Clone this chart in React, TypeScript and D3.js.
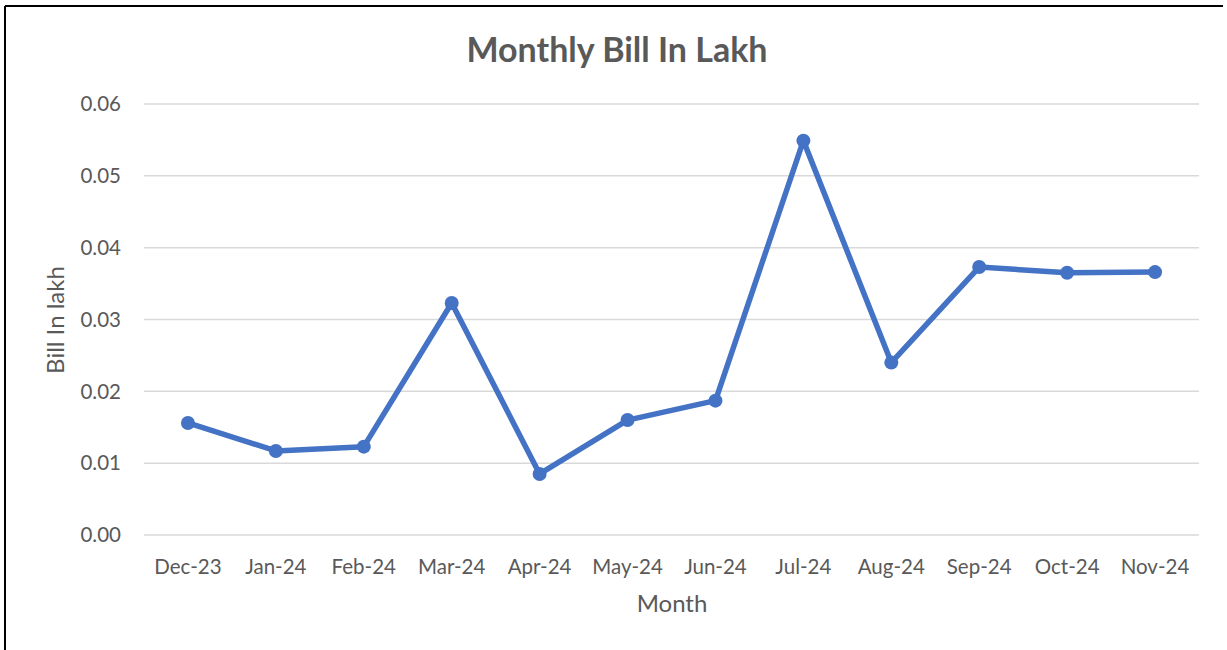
import React from "react";
import * as d3 from "d3";

const months = ["Dec-23","Jan-24","Feb-24","Mar-24","Apr-24","May-24","Jun-24","Jul-24","Aug-24","Sep-24","Oct-24","Nov-24"];
const bill = [0.0156,0.0117,0.0123,0.0323,0.0085,0.0160,0.0187,0.0549,0.0240,0.0373,0.0365,0.0366];
const yTicks = [0,0.01,0.02,0.03,0.04,0.05,0.06];

const W = 1227, H = 650;
const left = 144, right = 1199, top = 104, bottom = 535;
const FONT = "Lato, 'Open Sans', sans-serif";
const TXT = "#595959";

export default function App() {
  const x = d3.scaleBand<string>().domain(months).range([left, right]);
  const y = d3.scaleLinear().domain([0, 0.06]).range([bottom, top]);
  const line = d3.line<number>().x((_, i) => x(months[i])! + x.bandwidth() / 2).y(d => y(d));
  return (
    <svg width={W} height={H} style={{ position: "absolute", left: 0, top: 0 }} fontFamily={FONT}>
      <rect x={0} y={0} width={W} height={H} fill="#fff" />
      <line x1={5} y1={6} x2={1223} y2={6} stroke="#000" strokeWidth={2} />
      <line x1={5} y1={6} x2={5} y2={H} stroke="#000" strokeWidth={2} />
      <text x={617} y={62} textAnchor="middle" fontSize={34} fontWeight="bold" fill={TXT}>Monthly Bill In Lakh</text>
      {yTicks.map(t => (
        <g key={t}>
          <line x1={left} x2={right} y1={y(t)} y2={y(t)} stroke="#d9d9d9" strokeWidth={1.5} />
          <text x={121} y={y(t)} dy="0.35em" textAnchor="end" fontSize={20.5} fill={TXT}>{t.toFixed(2)}</text>
        </g>
      ))}
      {months.map(m => (
        <text key={m} x={x(m)! + x.bandwidth() / 2} y={574} textAnchor="middle" fontSize={20.5} fill={TXT}>{m}</text>
      ))}
      <text x={672} y={612} textAnchor="middle" fontSize={24} fill={TXT}>Month</text>
      <text transform={`translate(64,320) rotate(-90)`} textAnchor="middle" fontSize={24} fill={TXT}>Bill In lakh</text>
      <path d={line(bill)!} fill="none" stroke="#4472C4" strokeWidth={5.5} strokeLinejoin="round" />
      {bill.map((v, i) => (
        <circle key={i} cx={x(months[i])! + x.bandwidth() / 2} cy={y(v)} r={7} fill="#4472C4" />
      ))}
    </svg>
  );
}
